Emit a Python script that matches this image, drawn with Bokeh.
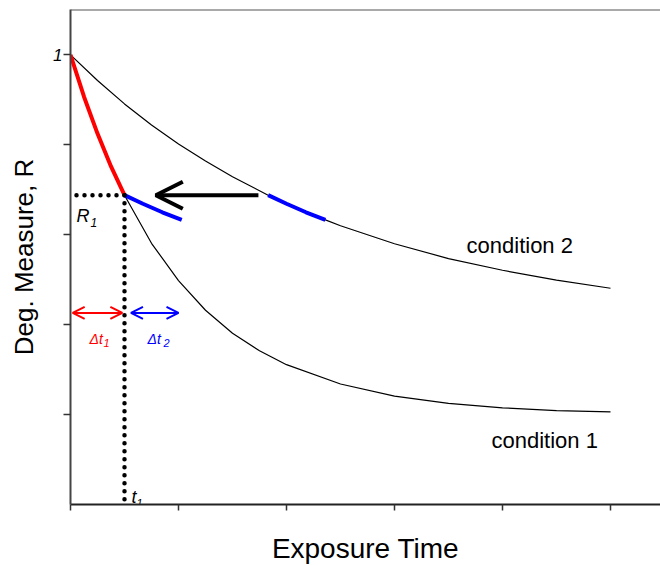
from bokeh.plotting import figure
from bokeh.models import Range1d, Span, Arrow, OpenHead, FixedTicker
from bokeh.core.properties import value
from bokeh.embed import file_html
from bokeh.resources import INLINE

# ---------------- data ----------------
x_ticks = [0, 1, 2, 3, 4, 5]
y_ticks = [0.2, 0.4, 0.6, 0.8]
y_labelled_tick = [1.0]

cond1_t = [0.0, 0.125, 0.25, 0.375, 0.5, 0.75, 1.0, 1.25, 1.5, 1.75, 2.0, 2.5, 3.0, 3.5, 4.0, 4.5, 5.0]
cond1_R = [1.000, 0.907, 0.825, 0.752, 0.688, 0.581, 0.498, 0.432, 0.381, 0.342, 0.311, 0.268, 0.241, 0.225, 0.215, 0.209, 0.206]

cond2_t = [0.0, 0.25, 0.5, 0.75, 1.0, 1.25, 1.5, 1.83, 2.0, 2.36, 2.5, 3.0, 3.5, 4.0, 4.5, 5.0]
cond2_R = [1.000, 0.943, 0.891, 0.844, 0.802, 0.764, 0.729, 0.688, 0.669, 0.633, 0.620, 0.580, 0.547, 0.521, 0.499, 0.481]

t1 = 0.5
R1 = 0.688

blue_seg_t = [1.83, 2.0, 2.18, 2.36]
blue_seg_R = [0.688, 0.669, 0.650, 0.633]

shift_arrow_t = [1.74, 0.79]        # big black arrow: tail -> tip
dt_level = 0.426                     # height of the delta-t arrows
dt1_span = [0.02, 0.48]
dt2_span = [0.56, 1.0]

cond2_label_pos = (3.667, 0.577)
cond1_label_pos = (3.898, 0.142)

x_max = 5.463
y_max = 1.101

FONT = "Liberation Sans"
RED = "#ff0000"
BLUE = "#0000ff"

# ---------------- figure ----------------
p = figure(width=660, height=566, output_backend="svg", toolbar_location=None,
           x_range=Range1d(0, x_max), y_range=Range1d(0, y_max),
           min_border_left=70, min_border_right=0, min_border_top=9, min_border_bottom=61)
p.xgrid.visible = False
p.ygrid.visible = False
p.outline_line_color = None
p.background_fill_color = "white"
p.border_fill_color = "white"

xa = p.xaxis[0]
xa.ticker = FixedTicker(ticks=[], minor_ticks=x_ticks)
xa.minor_tick_out = 6
xa.minor_tick_in = 0
xa.minor_tick_line_width = 1.5
xa.minor_tick_line_color = "#333333"
xa.major_tick_line_color = None
xa.major_label_text_color = None
xa.major_label_standoff = 0
xa.axis_line_width = 2
xa.axis_line_color = "#222222"
xa.axis_label = "Exposure Time"
xa.axis_label_text_font = FONT
xa.axis_label_text_font_style = "normal"
xa.axis_label_text_font_size = "28px"
xa.axis_label_text_color = "black"
xa.axis_label_standoff = 22

ya = p.yaxis[0]
ya.ticker = FixedTicker(ticks=y_labelled_tick, minor_ticks=y_ticks)
ya.major_tick_out = 7
ya.major_tick_in = 0
ya.minor_tick_out = 7
ya.minor_tick_in = 0
ya.major_tick_line_width = 1.5
ya.minor_tick_line_width = 1.5
ya.major_tick_line_color = "#333333"
ya.minor_tick_line_color = "#333333"
ya.major_label_standoff = 1
ya.major_label_text_font = FONT
ya.major_label_text_font_style = "italic"
ya.major_label_text_font_size = "17px"
ya.major_label_text_color = "black"
ya.major_label_overrides = {1: "1"}
ya.axis_line_width = 2
ya.axis_line_color = "#444444"
ya.axis_label = "Deg. Measure, R"
ya.axis_label_text_font = FONT
ya.axis_label_text_font_style = "normal"
ya.axis_label_text_font_size = "26px"
ya.axis_label_text_color = "black"
ya.axis_label_standoff = 11

# top frame line
p.add_layout(Span(location=y_max, dimension="width", line_color="#555555", line_width=2))

# curves
p.line(cond2_t, cond2_R, line_color="black", line_width=1.2)
p.line(cond1_t, cond1_R, line_color="black", line_width=1.2)

red_t = [t for t in cond1_t if t <= t1]
red_R = cond1_R[:len(red_t)]
p.line(red_t, red_R, line_color=RED, line_width=4)

p.line(blue_seg_t, blue_seg_R, line_color=BLUE, line_width=4)
shift = blue_seg_t[0] - t1
p.line([t - shift for t in blue_seg_t], blue_seg_R, line_color=BLUE, line_width=4)

# dotted guide lines
p.line([t1, 0], [R1, R1], line_color="black", line_width=4.5, line_dash="0 8", line_cap="round")
p.line([t1, t1], [R1, 0], line_color="black", line_width=4.5, line_dash="0 8", line_cap="round")

# big shift arrow
p.add_layout(Arrow(end=OpenHead(size=27, line_width=4, line_color="black"),
                   x_start=shift_arrow_t[0], y_start=R1, x_end=shift_arrow_t[1], y_end=R1,
                   line_width=4, line_color="black"))

# delta-t arrows
for span_, col in ((dt1_span, RED), (dt2_span, BLUE)):
    p.add_layout(Arrow(start=OpenHead(size=12, line_width=2, line_color=col),
                       end=OpenHead(size=12, line_width=2, line_color=col),
                       x_start=span_[0], y_start=dt_level, x_end=span_[1], y_end=dt_level,
                       line_width=2, line_color=col))

def txt(x, y, s, size, color="black", dx=0, dy=0, style="italic"):
    p.text(x=[x], y=[y], text=[s], x_offset=dx, y_offset=dy,
           text_font=value(FONT), text_font_style=style, text_font_size=size,
           text_color=color, text_align="left", text_baseline="alphabetic")

# R1 and t1 labels
txt(0, R1, "R", "18px", dx=6, dy=21)
txt(0, R1, "1", "12px", dx=20, dy=27)
txt(t1, 0, "t", "18px", dx=7, dy=-8)
txt(t1, 0, "1", "11px", dx=12, dy=-2)

# delta-t labels
txt(t1, dt_level, "\u0394t", "14px", color=RED, dx=-35, dy=26)
txt(t1, dt_level, "1", "11px", color=RED, dx=-21, dy=30)
txt(t1, dt_level, "\u0394t", "14px", color=BLUE, dx=23, dy=26)
txt(t1, dt_level, "2", "11px", color=BLUE, dx=39, dy=30)

# condition labels
txt(cond2_label_pos[0], cond2_label_pos[1], "condition 2", "22px", style="normal")
txt(cond1_label_pos[0], cond1_label_pos[1], "condition 1", "22px", style="normal")

open("out.html", "w").write(file_html(p, INLINE))
